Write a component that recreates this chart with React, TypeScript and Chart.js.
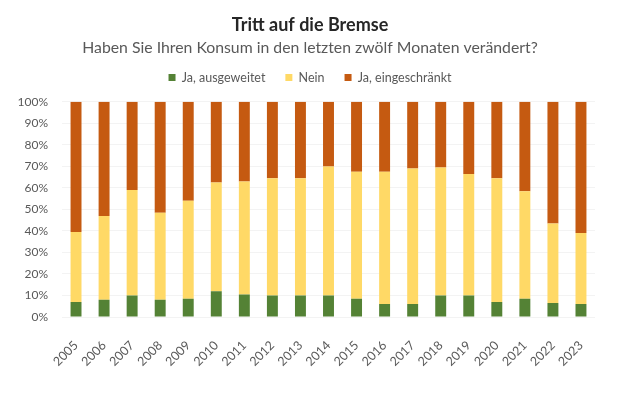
import React, { useEffect, useRef } from "react";
import { Chart, registerables } from "chart.js";

Chart.register(...registerables);

const years = ["2005","2006","2007","2008","2009","2010","2011","2012","2013","2014","2015","2016","2017","2018","2019","2020","2021","2022","2023"];
const ausgeweitet = [7, 8, 10, 8, 8.5, 12, 10.5, 10, 10, 10, 8.5, 6, 6, 10, 10, 7, 8.5, 6.5, 6];
const nein = [32.5, 39, 49, 40.5, 45.5, 50.5, 52.5, 54.5, 54.5, 60, 59, 61.5, 63, 59.5, 56.5, 57.5, 50, 37, 33];
const eingeschraenkt = [60.5, 53, 41, 51.5, 46, 37.5, 37, 35.5, 35.5, 30, 32.5, 32.5, 31, 30.5, 33.5, 35.5, 41.5, 56.5, 61];
const yTicks = [0, 10, 20, 30, 40, 50, 60, 70, 80, 90, 100];

const titleText = "Tritt auf die Bremse";
const subtitleText = "Haben Sie Ihren Konsum in den letzten zwölf Monaten verändert?";
const FONT = "Lato, 'Open Sans', sans-serif";

const legendSpacer = {
  id: "legendSpacer",
  afterInit(chart: any) {
    const legend = chart.legend;
    if (!legend || legend.__patched) return;
    const orig = legend.fit.bind(legend);
    legend.fit = function () {
      orig();
      this.height += 8;
    };
    legend.__patched = true;
  },
};

export default function App() {
  const ref = useRef<HTMLCanvasElement | null>(null);
  useEffect(() => {
    if (!ref.current) return;
    const barOpts = { barPercentage: 0.39, categoryPercentage: 1, borderWidth: 0 };
    const chart = new Chart(ref.current, {
      type: "bar",
      plugins: [legendSpacer],
      data: {
        labels: years,
        datasets: [
          { label: "Ja, ausgeweitet", data: ausgeweitet, backgroundColor: "#548235", ...barOpts },
          { label: "Nein", data: nein, backgroundColor: "#FFD966", ...barOpts },
          { label: "Ja, eingeschränkt", data: eingeschraenkt, backgroundColor: "#C55A11", ...barOpts },
        ],
      },
      options: {
        responsive: false,
        animation: false,
        layout: { padding: { left: 0, right: 0, top: 0, bottom: 0 } },
        plugins: {
          title: {
            display: true,
            text: titleText,
            color: "#262626",
            font: { family: FONT, size: 18, weight: "bold" },
            padding: { top: 14.4, bottom: 2.9 },
          },
          subtitle: {
            display: true,
            text: subtitleText,
            color: "#595959",
            font: { family: FONT, size: 15.8 },
            padding: { top: 0, bottom: -6.5 },
          },
          legend: {
            display: true,
            position: "top",
            labels: {
              boxWidth: 7,
              boxHeight: 7,
              padding: 20,
              color: "#595959",
              font: { family: FONT, size: 12.5 },
            },
          },
          tooltip: { enabled: false },
        },
        scales: {
          x: {
            stacked: true,
            grid: { display: false },
            border: { display: false },
            ticks: {
              color: "#595959",
              font: { family: FONT, size: 12.5 },
              minRotation: 45,
              maxRotation: 45,
              padding: 13,
            },
            afterFit: (s: any) => { s.height = 96; },
          },
          y: {
            stacked: true,
            min: 0,
            max: 100,
            afterBuildTicks: (s: any) => { s.ticks = yTicks.map((v) => ({ value: v })); },
            grid: { color: "#f3f3f3", drawTicks: false },
            border: { display: false },
            ticks: {
              color: "#595959",
              font: { family: FONT, size: 12 },
              padding: 14,
              callback: (v: any) => v + "%",
            },
            afterFit: (s: any) => { s.width = 62; },
          },
          yRight: {
            position: "right",
            min: 0,
            max: 100,
            grid: { display: false },
            border: { display: false },
            ticks: { display: false },
            afterFit: (s: any) => { s.width = 25; },
          },
        },
      },
    });
    return () => chart.destroy();
  }, []);
  return (
    <div style={{ position: "fixed", left: 0, top: 0, width: 620, height: 413, background: "#fff" }}>
      <canvas ref={ref} width={620} height={413} />
    </div>
  );
}
